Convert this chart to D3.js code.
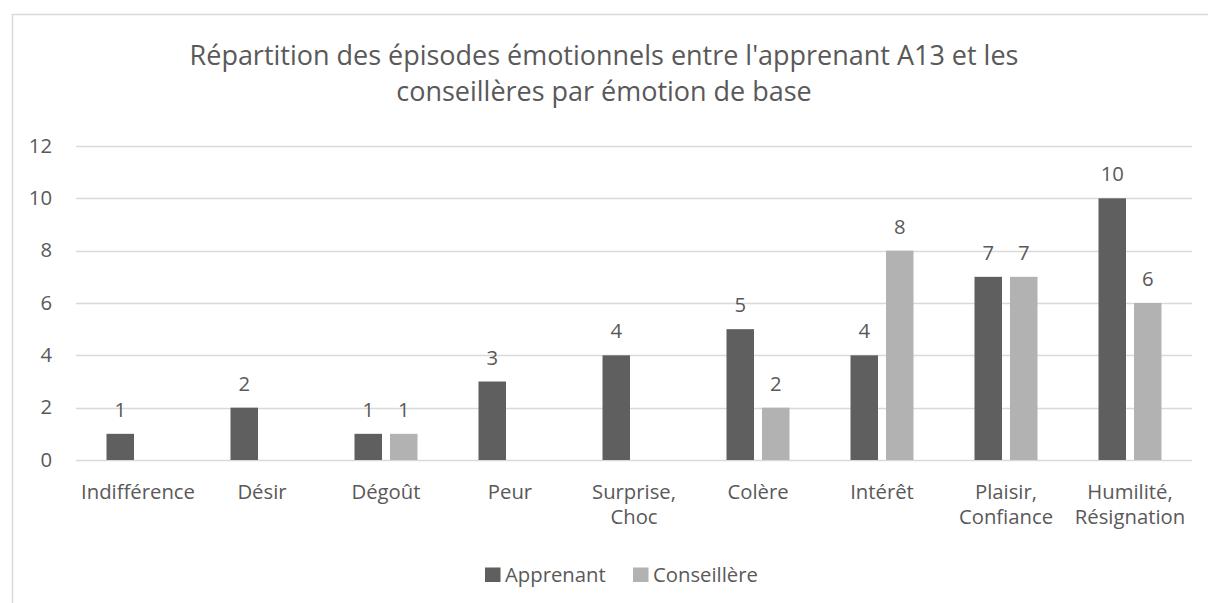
<!DOCTYPE html>
<html><head><meta charset="utf-8">
<script src="https://cdn.jsdelivr.net/npm/d3@7"></script>
<style>
html,body{margin:0;padding:0;background:#fff;}
svg text{font-family:"Open Sans",sans-serif;fill:#595959;}
</style></head>
<body>
<svg id="c" width="1208" height="603"></svg>
<script>
const categories = [["Indifférence"],["Désir"],["Dégoût"],["Peur"],["Surprise,","Choc"],["Colère"],["Intérêt"],["Plaisir,","Confiance"],["Humilité,","Résignation"]];
const apprenant = [1,2,1,3,4,5,4,7,10];
const conseillere = [null,null,1,null,null,2,8,7,6];
const seriesNames = ["Apprenant","Conseillère"];
const yTicks = [0,2,4,6,8,10,12];
const titleLines = ["Répartition des épisodes émotionnels entre l'apprenant A13 et les","conseillères par émotion de base"];

const colors = ["#5f5f5f","#b2b2b2"];
const fsSmall = 20.3;
const svg = d3.select("#c");

// chart frame
svg.append("path").attr("d","M12.5,603 L12.5,14.5 L1208,14.5").attr("fill","none").attr("stroke","#d9d9d9").attr("stroke-width",1.5);

const x0 = d3.scaleBand().domain(d3.range(categories.length)).range([76,1192]).paddingInner(0).paddingOuter(0);
const y = d3.scaleLinear().domain([0,12]).range([460,146]);

// gridlines
svg.append("g").selectAll("line").data(yTicks).join("line")
  .attr("x1",76).attr("x2",1192).attr("y1",d=>Math.round(y(d))+0.5).attr("y2",d=>Math.round(y(d))+0.5)
  .attr("stroke","#d9d9d9").attr("stroke-width",1.3);

// y axis labels
svg.append("g").selectAll("text").data(yTicks).join("text")
  .attr("x",52).attr("y",d=>y(d)+6.5).attr("text-anchor","end").attr("font-size",fsSmall).text(d=>d);

// bars
const barW = 27.5, innerGap = 8;
const data = [apprenant, conseillere];
data.forEach((vals,si)=>{
  const g = svg.append("g");
  const pts = vals.map((v,i)=>({v,i})).filter(d=>d.v!==null);
  const bx = d => x0(d.i) + x0.bandwidth()/2 + (si===0 ? -innerGap/2 - barW : innerGap/2);
  g.selectAll("rect").data(pts).join("rect")
    .attr("x",bx).attr("width",barW)
    .attr("y",d=>y(d.v)).attr("height",d=>y(0)-y(d.v))
    .attr("fill",colors[si]);
  g.selectAll("text").data(pts).join("text")
    .attr("x",d=>bx(d)+barW/2).attr("y",d=>y(d.v)-17)
    .attr("text-anchor","middle").attr("font-size",fsSmall).text(d=>d.v);
});

// category labels
const cg = svg.append("g");
categories.forEach((lines,i)=>{
  const t = cg.append("text").attr("text-anchor","middle").attr("font-size",fsSmall);
  lines.forEach((l,k)=>{
    t.append("tspan").attr("x",x0(i)+x0.bandwidth()/2).attr("y",498.5+k*25).text(l);
  });
});

// title
const tg = svg.append("g");
const tl1 = tg.append("text").attr("x",604).attr("y",65).attr("text-anchor","middle").attr("font-size",25).text(titleLines[0]);
const w = tl1.node().getComputedTextLength();
const fs = 25*829/w;
tl1.attr("font-size",fs);
tg.append("text").attr("x",604).attr("y",101).attr("text-anchor","middle").attr("font-size",fs).text(titleLines[1]);

// legend
const lg = svg.append("g");
const legX = [485,633];
seriesNames.forEach((n,i)=>{
  lg.append("rect").attr("x",legX[i]).attr("y",567.5).attr("width",15.5).attr("height",14.5).attr("fill",colors[i]);
  lg.append("text").attr("x",legX[i]+20).attr("y",581.5).attr("font-size",fsSmall).text(n);
});
</script>
</body></html>
